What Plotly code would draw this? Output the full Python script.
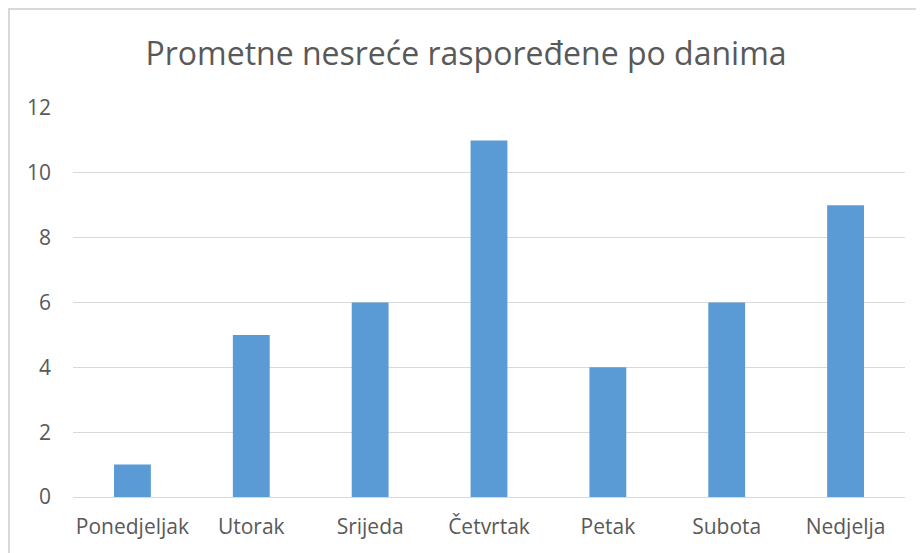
import plotly.graph_objects as go

days = ["Ponedjeljak", "Utorak", "Srijeda", "Četvrtak", "Petak", "Subota", "Nedjelja"]
counts = [1, 5, 6, 11, 4, 6, 9]
y_ticks = [0, 2, 4, 6, 8, 10, 12]

fig = go.Figure(go.Bar(x=days, y=counts, marker=dict(color="#5B9BD5", line=dict(width=0))))

# page body has an 8px margin; figure is sized to fit the window
W, H = 916, 545
L, R, T, B = 65, 19, 100, 56
pw, ph = W - L - R, H - T - B

fig.update_layout(
    width=W, height=H,
    margin=dict(l=L, r=R, t=T, b=B),
    paper_bgcolor="white", plot_bgcolor="white",
    bargap=0.69,
    font=dict(family="Open Sans", color="#595959", size=21),
    title=dict(text="Prometne nesreće raspoređene po danima", x=0.5, xanchor="center",
               y=1 - 46 / H, yanchor="middle",
               font=dict(family="Open Sans", size=32, color="#595959")),
    showlegend=False,
    shapes=[dict(type="rect", xref="paper", yref="paper",
                 x0=(1 - L) / pw, x1=(W + 20 - L) / pw,
                 y0=(H - B - (H + 20)) / ph, y1=(H - B - 1) / ph,
                 line=dict(color="#D9D9D9", width=2), fillcolor="rgba(0,0,0,0)", layer="below")],
)
fig.update_xaxes(showgrid=False, showline=False, ticks="", ticklabelstandoff=15,
                 tickfont=dict(size=21, color="#595959"))
fig.update_yaxes(range=[0, 12], tickvals=y_ticks, showgrid=True, gridcolor="#D9D9D9", gridwidth=1,
                 zeroline=True, zerolinecolor="#D9D9D9", zerolinewidth=1, showline=False, ticks="",
                 ticklabelstandoff=21, tickfont=dict(size=21, color="#595959"))

fig.write_html("out.html")
